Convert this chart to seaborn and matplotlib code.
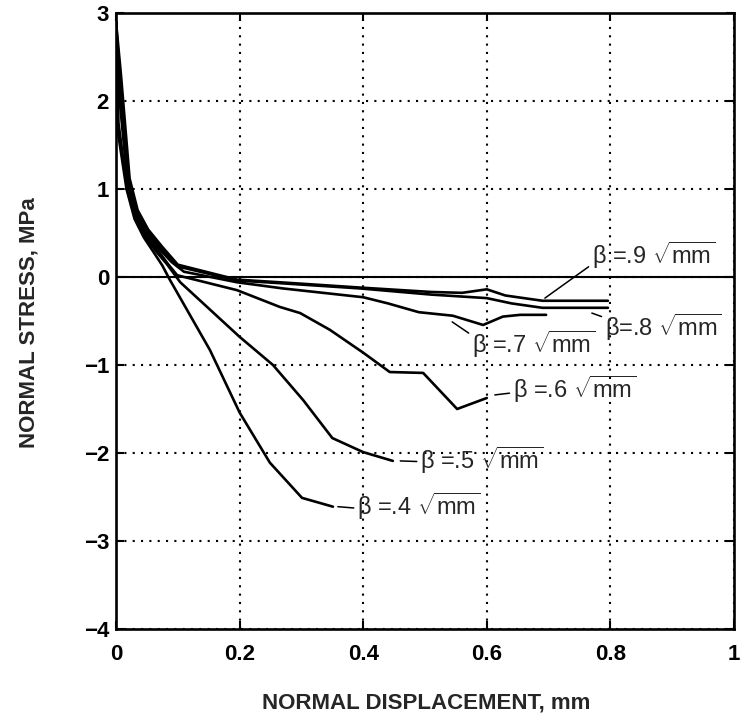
import matplotlib
matplotlib.use("Agg")
import matplotlib.pyplot as plt
import seaborn as sns
import pandas as pd

# Normal stress vs. normal displacement for several beta values (units: sqrt(mm))
beta_04_x = [0, 0.003, 0.017, 0.03, 0.045, 0.062, 0.075, 0.087, 0.152, 0.2, 0.249, 0.301, 0.351]
beta_04_y = [2.9, 1.65, 1.0, 0.66, 0.45, 0.27, 0.13, -0.03, -0.83, -1.54, -2.11, -2.51, -2.61]

beta_05_x = [0, 0.004, 0.018, 0.031, 0.047, 0.065, 0.082, 0.104, 0.2, 0.254, 0.303, 0.35, 0.4, 0.448]
beta_05_y = [2.9, 1.75, 1.0, 0.68, 0.46, 0.29, 0.15, -0.06, -0.68, -1.0, -1.4, -1.83, -1.99, -2.09]

beta_06_x = [0, 0.006, 0.019, 0.032, 0.048, 0.067, 0.085, 0.099, 0.196, 0.265, 0.298, 0.346,
             0.4, 0.443, 0.497, 0.552, 0.6]
beta_06_y = [2.9, 2.0, 1.05, 0.7, 0.48, 0.31, 0.14, 0.02, -0.15, -0.34, -0.41, -0.6,
             -0.86, -1.08, -1.09, -1.5, -1.375]

beta_07_x = [0, 0.006, 0.02, 0.033, 0.05, 0.07, 0.09, 0.11, 0.196, 0.27, 0.4, 0.44, 0.49,
             0.545, 0.594, 0.626, 0.654, 0.696]
beta_07_y = [2.9, 2.1, 1.05, 0.72, 0.5, 0.32, 0.17, 0.06, -0.06, -0.13, -0.23, -0.3, -0.4,
             -0.44, -0.545, -0.45, -0.43, -0.43]

beta_08_x = [0, 0.007, 0.021, 0.034, 0.051, 0.072, 0.1, 0.196, 0.265, 0.395, 0.51, 0.6,
             0.64, 0.69, 0.796]
beta_08_y = [2.9, 2.2, 1.1, 0.74, 0.52, 0.33, 0.12, -0.04, -0.07, -0.13, -0.2, -0.24,
             -0.3, -0.35, -0.35]

beta_09_x = [0, 0.008, 0.022, 0.035, 0.052, 0.074, 0.1, 0.196, 0.265, 0.395, 0.51, 0.56,
             0.6, 0.63, 0.69, 0.796]
beta_09_y = [2.9, 2.3, 1.12, 0.76, 0.54, 0.35, 0.14, -0.03, -0.06, -0.12, -0.17, -0.18,
             -0.14, -0.21, -0.27, -0.27]

betas = [".4", ".5", ".6", ".7", ".8", ".9"]
series_x = [beta_04_x, beta_05_x, beta_06_x, beta_07_x, beta_08_x, beta_09_x]
series_y = [beta_04_y, beta_05_y, beta_06_y, beta_07_y, beta_08_y, beta_09_y]

x_ticks = [0, 0.2, 0.4, 0.6, 0.8, 1]
x_tick_labels = ["0", "0.2", "0.4", "0.6", "0.8", "1"]
y_ticks = [-4, -3, -2, -1, 0, 1, 2, 3]

# curve labels: text, text anchor (x, y), leader end on curve (x, y), leader start on text box
labels = [
    ("β =.4", (0.39, -2.61), (0.359, -2.61), (0.0, 0.45)),
    ("β =.5", (0.492, -2.08), (0.46, -2.09), (0.0, 0.45)),
    ("β =.6", (0.642, -1.28), (0.613, -1.34), (0.0, 0.4)),
    ("β =.7", (0.576, -0.77), (0.544, -0.51), (0.0, 0.8)),
    ("β=.8", (0.791, -0.57), (0.77, -0.41), (0.0, 0.8)),
    ("β =.9", (0.77, 0.25), (0.694, -0.24), (0.0, 0.2)),
]

rows = []
for b, xs, ys in zip(betas, series_x, series_y):
    for xv, yv in zip(xs, ys):
        rows.append({"beta": b, "disp": xv, "stress": yv})
df = pd.DataFrame(rows)

sns.set_style("ticks")
plt.rcParams["font.family"] = ["Liberation Sans", "DejaVu Sans"]
plt.rcParams["mathtext.fontset"] = "custom"
plt.rcParams["mathtext.rm"] = "Liberation Sans"
plt.rcParams["mathtext.it"] = "Liberation Sans:italic"
plt.rcParams["mathtext.bf"] = "Liberation Sans:bold"

fig = plt.figure(figsize=(7.45, 7.26), dpi=100)
ax = fig.add_axes([116 / 745, 1 - 629 / 726, (734 - 116) / 745, (629 - 13) / 726])

sns.lineplot(data=df, x="disp", y="stress", units="beta", estimator=None, sort=False,
             color="black", lw=1.9, ax=ax, legend=False)

ax.axhline(0, color="black", lw=1.5, zorder=1)

ax.set_xlim(0, 1)
ax.set_ylim(-4, 3)
ax.set_xticks(x_ticks)
ax.set_xticklabels(x_tick_labels)
ax.set_yticks(y_ticks)
ax.set_yticklabels([f"{v}".replace("-", "\u2212") for v in y_ticks])

ax.grid(True, color="black", linestyle=(0, (1, 3)), lw=1.5)
ax.set_axisbelow(True)

for sp in ax.spines.values():
    sp.set_visible(True)
    sp.set_linewidth(1.9)
    sp.set_color("black")

ax.tick_params(direction="in", length=6, width=1.5, top=True, right=True,
               labelsize=16, colors="black")
ax.tick_params(axis="x", pad=11)
ax.tick_params(axis="y", pad=5)
for lab in ax.get_xticklabels() + ax.get_yticklabels():
    lab.set_fontweight("bold")

ax.set_xlabel("NORMAL DISPLACEMENT, mm", fontsize=16, fontweight="bold", va="center")
ax.set_ylabel("NORMAL STRESS, MPa", fontsize=16, fontweight="bold")
ax.xaxis.set_label_coords(0.502, (629 - 703) / 616)
ax.yaxis.set_label_coords((40 - 116) / 618, 0.497)

for text, xy_text, xy_curve, rel in labels:
    ax.annotate(text + r" $\sqrt{\mathrm{mm}}$", xy=xy_curve, xytext=xy_text,
                ha="left", va="center", fontsize=17,
                arrowprops=dict(arrowstyle="-", lw=1.1, color="black",
                                shrinkA=0, shrinkB=0, relpos=rel))

fig.savefig("out.png", dpi=100, facecolor="white")
